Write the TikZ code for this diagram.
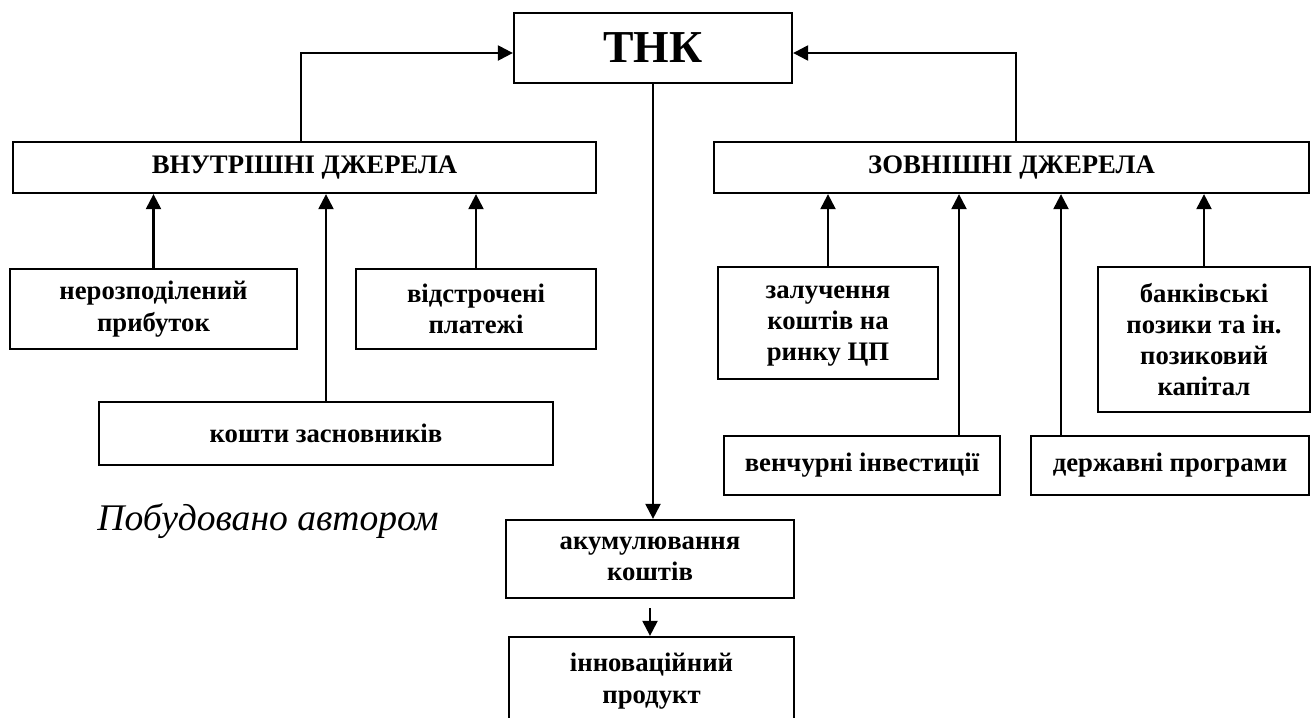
\documentclass[tikz,border=0pt]{standalone}
\usepackage{fontspec}
\setmainfont{Liberation Serif}
\usetikzlibrary{arrows.meta,positioning,calc}

\begin{document}
\begin{tikzpicture}[>={Triangle[length=3mm,width=3mm]},
  box/.style={draw,line width=1.3pt,align=center,inner sep=2pt,
    font=\bfseries\fontsize{15.2}{17.8}\selectfont},
  link/.style={line width=1.3pt,->}]
\useasboundingbox (0,0) rectangle (26.3,-14.34);
\node[box,minimum width=5.56cm,minimum height=1.4cm,font=\bfseries\fontsize{26}{30}\selectfont] (tnk) at (13.06,-0.96) {ТНК};
\node[box,minimum width=11.66cm,minimum height=1.02cm] (vn) at (6.09,-3.35) {ВНУТРІШНІ ДЖЕРЕЛА};
\node[box,minimum width=11.9cm,minimum height=1.02cm] (zov) at (20.23,-3.35) {ЗОВНІШНІ ДЖЕРЕЛА};
\node[box,minimum width=5.74cm,minimum height=1.6cm] (nerozp) at (3.07,-6.18) {нерозподілений\\прибуток};
\node[box,minimum width=4.8cm,minimum height=1.6cm] (vidstr) at (9.52,-6.18) {відстрочені\\платежі};
\node[box,minimum width=9.08cm,minimum height=1.26cm] (koshty) at (6.52,-8.67) {кошти засновників};
\node[box,minimum width=4.4cm,minimum height=2.24cm,text depth=-0.1cm] (zaluch) at (16.56,-6.46) {залучення\\коштів на\\ринку ЦП};
\node[box,minimum width=4.24cm,minimum height=2.9cm] (bank) at (24.08,-6.79) {банківські\\позики та ін.\\позиковий\\капітал};
\node[box,minimum width=5.52cm,minimum height=1.18cm] (vench) at (17.24,-9.31) {венчурні інвестиції};
\node[box,minimum width=5.56cm,minimum height=1.18cm] (derzh) at (23.4,-9.31) {державні програми};
\node[box,minimum width=5.76cm,minimum height=1.56cm] (akum) at (13.0,-11.18) {акумулювання\\коштів};
\node[box,minimum width=5.7cm,minimum height=1.76cm] (innov) at (13.03,-13.62) {інноваційний\\продукт};
\node[font=\itshape\fontsize{21.4}{25}\selectfont] (src) at (5.36,-10.42) {Побудовано автором};
\coordinate (vx) at (19.18,0);
\coordinate (dx) at (21.22,0);
\draw[link] ([xshift=-0.07cm]vn.north) |- ([yshift=-0.1cm]tnk.west);
\draw[link] ([xshift=0.09cm]zov.north) |- ([yshift=-0.1cm]tnk.east);
\draw[link] (tnk.south) -- (tnk.south |- akum.north);
\draw[link,shorten <=0.18cm] (akum.south) -- (akum.south |- innov.north);
\draw[link] (nerozp.north) -- (nerozp.north |- vn.south);
\draw[link] (vidstr.north) -- (vidstr.north |- vn.south);
\draw[link] (koshty.north) -- (koshty.north |- vn.south);
\draw[link] (zaluch.north) -- (zaluch.north |- zov.south);
\draw[link] (bank.north) -- (bank.north |- zov.south);
\draw[link] (vx |- vench.north) -- (vx |- zov.south);
\draw[link] (dx |- derzh.north) -- (dx |- zov.south);
\end{tikzpicture}
\end{document}
